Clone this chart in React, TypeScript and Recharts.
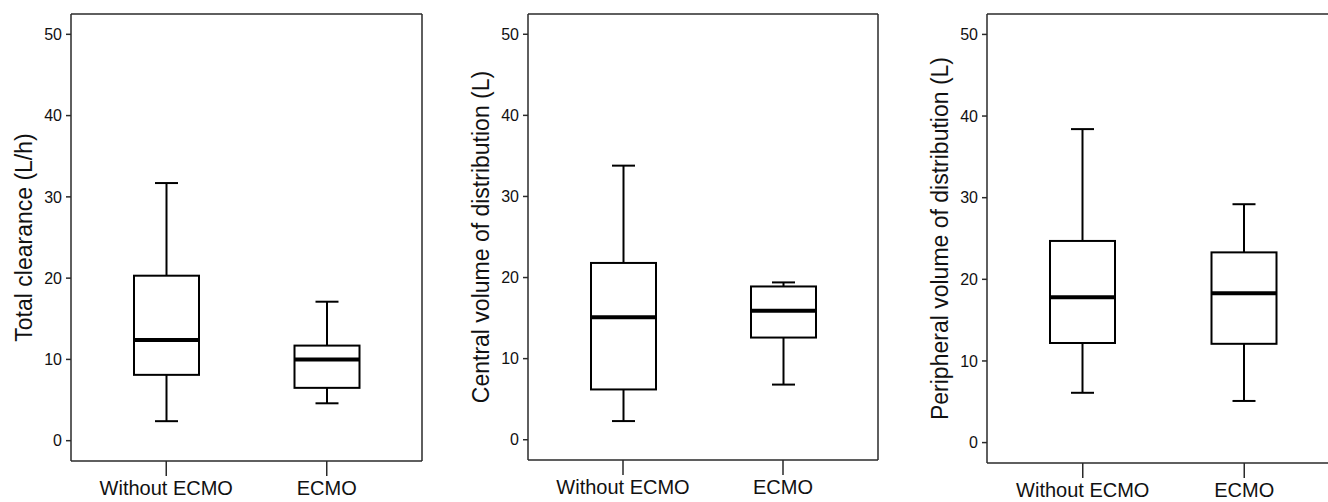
import React from "react";
import { Bar, ComposedChart, Label, XAxis, YAxis } from "recharts";

const groups = ["Without ECMO", "ECMO"];
const yTicks = [0, 10, 20, 30, 40, 50];

// Total clearance (L/h)
const clearanceMin = [2.4, 4.6];
const clearanceQ1 = [8.1, 6.5];
const clearanceMedian = [12.4, 10.0];
const clearanceQ3 = [20.3, 11.7];
const clearanceMax = [31.7, 17.1];

// Central volume of distribution (L)
const centralMin = [2.3, 6.8];
const centralQ1 = [6.2, 12.6];
const centralMedian = [15.1, 15.9];
const centralQ3 = [21.8, 18.9];
const centralMax = [33.8, 19.4];

// Peripheral volume of distribution (L)
const peripheralMin = [6.1, 5.1];
const peripheralQ1 = [12.2, 12.1];
const peripheralMedian = [17.8, 18.3];
const peripheralQ3 = [24.7, 23.3];
const peripheralMax = [38.4, 29.2];

type BoxRow = { group: string; min: number; q1: number; median: number; q3: number; max: number };

function buildRows(min: number[], q1: number[], median: number[], q3: number[], max: number[]): BoxRow[] {
  return groups.map((group, i) => ({ group, min: min[i], q1: q1[i], median: median[i], q3: q3[i], max: max[i] }));
}

const FONT = "Arial, 'Liberation Sans', sans-serif";
const INK = "#111";
const FRAME = "#2a2a2a";

function BoxShape(props: any) {
  const { x, y, width, height, payload } = props;
  if (payload == null || width == null) return null;
  const top = Math.min(y, y + height);
  const h = Math.abs(height);
  const range = payload.max - payload.min;
  const py = (v: number) => top + ((payload.max - v) / range) * h;
  const cx = x + width / 2;
  const cap = 11.5;
  const yMax = py(payload.max);
  const yMin = py(payload.min);
  const yQ1 = py(payload.q1);
  const yQ3 = py(payload.q3);
  const yMed = py(payload.median);
  return (
    <g stroke="#000" fill="none">
      <line x1={cx} x2={cx} y1={yMax} y2={yQ3} strokeWidth={2} />
      <line x1={cx} x2={cx} y1={yQ1} y2={yMin} strokeWidth={2} />
      <line x1={cx - cap} x2={cx + cap} y1={yMax} y2={yMax} strokeWidth={2} />
      <line x1={cx - cap} x2={cx + cap} y1={yMin} y2={yMin} strokeWidth={2} />
      <rect x={x} y={yQ3} width={width} height={yQ1 - yQ3} strokeWidth={2} fill="#fff" />
      <line x1={x} x2={x + width} y1={yMed} y2={yMed} strokeWidth={4} />
    </g>
  );
}

type PanelProps = {
  rows: BoxRow[];
  title: string;
  plotLeft: number;
  plotRight: number;
  plotBottom: number;
  rightEdge?: boolean;
};

function Panel({ rows, title, plotLeft, plotRight, plotBottom, rightEdge = true }: PanelProps) {
  const axisW = 70;
  const rightM = 2;
  const width = axisW + (plotRight - plotLeft) + 1 + rightM;
  const height = 502;
  return (
    <div style={{ position: "absolute", left: plotLeft - axisW, top: 0 }}>
      <ComposedChart
        width={width}
        height={height}
        data={rows}
        margin={{ top: 13, right: rightM, bottom: 0, left: 0 }}
        barSize={65}
      >
        <XAxis
          dataKey="group"
          type="category"
          height={height - plotBottom}
          padding={{ left: 15, right: 15 }}
          tickSize={15}
          tickMargin={5}
          tick={{ fill: INK, fontSize: 20, fontFamily: FONT }}
          axisLine={{ stroke: FRAME, strokeWidth: 1.5 }}
          tickLine={{ stroke: FRAME, strokeWidth: 1.5 }}
        />
        <XAxis
          xAxisId="top"
          orientation="top"
          dataKey="group"
          type="category"
          height={1}
          tick={false}
          tickLine={false}
          axisLine={{ stroke: FRAME, strokeWidth: 1.5 }}
        />
        <YAxis
          type="number"
          domain={[-2.5, 52.5]}
          ticks={yTicks}
          allowDataOverflow
          width={axisW}
          tickSize={5}
          tickMargin={4}
          tick={{ fill: INK, fontSize: 16, fontFamily: FONT }}
          axisLine={{ stroke: FRAME, strokeWidth: 1.5 }}
          tickLine={{ stroke: FRAME, strokeWidth: 1.5 }}
        >
          <Label
            value={title}
            angle={-90}
            position="insideLeft"
            offset={23}
            style={{ textAnchor: "middle", fill: INK, fontSize: 23, fontFamily: FONT }}
          />
        </YAxis>
        <YAxis
          yAxisId="right"
          orientation="right"
          type="number"
          domain={[-2.5, 52.5]}
          width={1}
          tick={false}
          tickLine={false}
          axisLine={rightEdge ? { stroke: FRAME, strokeWidth: 1.5 } : false}
        />
        <Bar
          dataKey={(d: BoxRow) => [d.min, d.max]}
          shape={<BoxShape />}
          isAnimationActive={false}
        />
      </ComposedChart>
    </div>
  );
}

export default function App() {
  return (
    <div
      style={{
        position: "fixed",
        left: 0,
        top: 0,
        width: 1328,
        height: 502,
        overflow: "hidden",
        background: "#fff",
      }}
    >
      <Panel
        rows={buildRows(clearanceMin, clearanceQ1, clearanceMedian, clearanceQ3, clearanceMax)}
        title="Total clearance (L/h)"
        plotLeft={71}
        plotRight={422}
        plotBottom={461}
      />
      <Panel
        rows={buildRows(centralMin, centralQ1, centralMedian, centralQ3, centralMax)}
        title="Central volume of distribution (L)"
        plotLeft={528}
        plotRight={878}
        plotBottom={460}
      />
      <Panel
        rows={buildRows(peripheralMin, peripheralQ1, peripheralMedian, peripheralQ3, peripheralMax)}
        title="Peripheral volume of distribution (L)"
        plotLeft={987}
        plotRight={1340}
        plotBottom={463}
        rightEdge={false}
      />
    </div>
  );
}
